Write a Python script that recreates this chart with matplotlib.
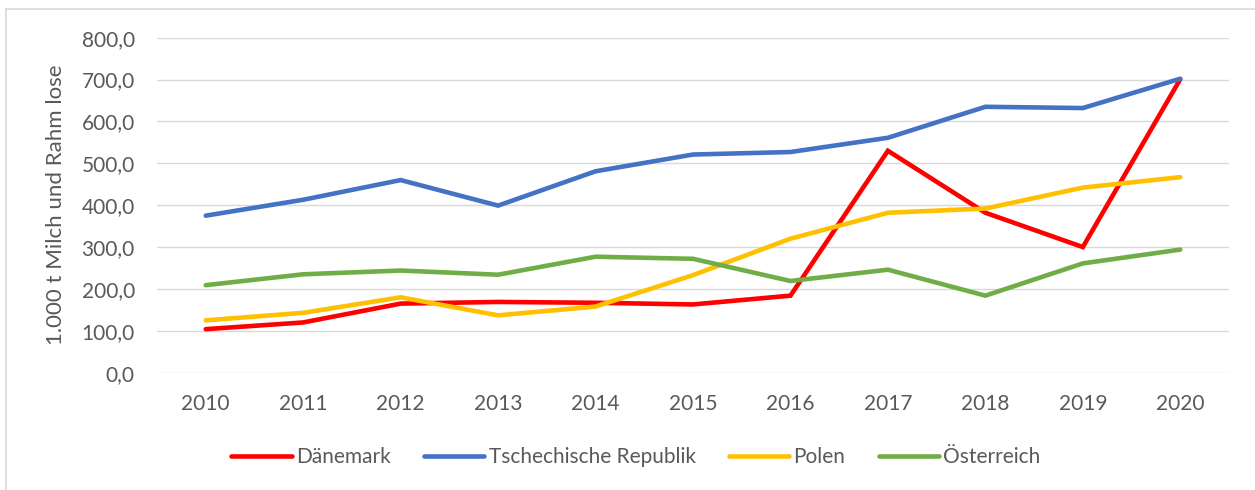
import matplotlib
matplotlib.use("Agg")
from matplotlib import pyplot as plt
from matplotlib.lines import Line2D
from matplotlib.ticker import FuncFormatter

plt.rcParams['font.family'] = ['Lato', 'DejaVu Sans']

years = [2010, 2011, 2012, 2013, 2014, 2015, 2016, 2017, 2018, 2019, 2020]
daenemark = [104, 120, 165, 169, 167, 163, 184, 530, 382, 300, 701]
tschechien = [375, 413, 460, 399, 481, 521, 527, 561, 635, 632, 702]
polen = [125, 143, 180, 137, 158, 233, 320, 382, 392, 442, 467]
oesterreich = [209, 235, 244, 234, 277, 272, 219, 246, 184, 261, 294]

series = [
    ('Dänemark', daenemark, '#FF0000'),
    ('Tschechische Republik', tschechien, '#4472C4'),
    ('Polen', polen, '#FFC000'),
    ('Österreich', oesterreich, '#70AD47'),
]

txt = '#595959'
grid = '#D9D9D9'

fig = plt.figure(figsize=(12.55, 4.9), dpi=100)
ax = fig.add_axes([157 / 1255, 1 - 372.7 / 490, 1072 / 1255, 335 / 490])

x = list(range(len(years)))
for name, vals, col in series:
    ax.plot(x, vals, color=col, lw=3.3, label=name, solid_capstyle='round',
            solid_joinstyle='miter', zorder=3)

ax.set_xlim(-0.5, len(years) - 0.5)
ax.set_ylim(0, 800)
ax.set_yticks(range(0, 801, 100))
ax.yaxis.set_major_formatter(FuncFormatter(lambda v, p: f'{v:.1f}'.replace('.', ',')))
ax.set_xticks(x)
ax.set_xticklabels([str(y) for y in years])
ax.tick_params(length=0, labelsize=15, colors=txt)
ax.tick_params(axis='y', pad=16)
ax.tick_params(axis='x', pad=15)
ax.grid(axis='y', color=grid, lw=1.0, zorder=0)
for s in ax.spines.values():
    s.set_visible(False)

ax.set_ylabel('1.000 t Milch und Rahm lose', fontsize=16, color=txt)
ax.yaxis.set_label_coords(-0.085, 0.5)

handles = [Line2D([], [], color=c, lw=3.3, solid_capstyle='round') for _, _, c in series]
leg = fig.legend(handles, [n for n, _, _ in series], loc='center',
                 bbox_to_anchor=(636 / 1255, 1 - 457 / 490), ncol=4, frameon=False,
                 fontsize=15, handlelength=2.9, handletextpad=0.2, columnspacing=1.6)
for t in leg.get_texts():
    t.set_color(txt)

# outer chart frame (only left and top edges visible)
fig.add_artist(Line2D([6 / 1255, 6 / 1255], [0, 1 - 9 / 490], color=grid, lw=1.2,
                      transform=fig.transFigure))
fig.add_artist(Line2D([6 / 1255, 1], [1 - 9 / 490, 1 - 9 / 490], color=grid, lw=1.2,
                      transform=fig.transFigure))

fig.savefig('out.png', dpi=100, facecolor='white')
